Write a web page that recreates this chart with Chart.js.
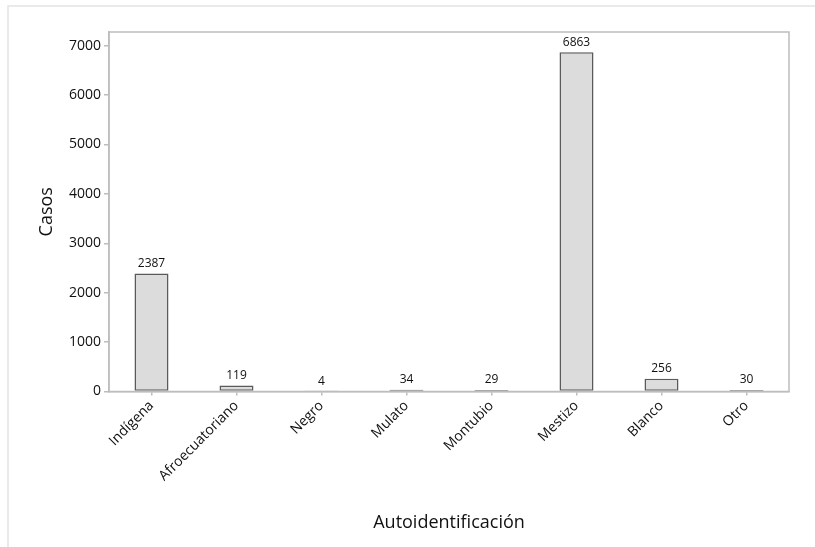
<!DOCTYPE html>
<html>
<head>
<meta charset="utf-8">
<script src="https://cdn.jsdelivr.net/npm/chart.js@4"></script>
<style>
  html, body { margin: 0; padding: 0; background: #fff; }
  #wrap { width: 815px; height: 547px; position: relative; }
</style>
</head>
<body>
<div id="wrap"><canvas id="myChart" width="815" height="547"></canvas></div>
<script>
const categorias = ["Indígena", "Afroecuatoriano", "Negro", "Mulato", "Montubio", "Mestizo", "Blanco", "Otro"];
const casos = [2387, 119, 4, 34, 29, 6863, 256, 30];
const ticksY = [0, 1000, 2000, 3000, 4000, 5000, 6000, 7000];

const colorMarco = "#bdbdbd";

// marco exterior y recuadro del area de trazado
const marcos = {
    id: "marcos",
    beforeDraw(chart) {
        const ctx = chart.ctx;
        ctx.save();
        ctx.strokeStyle = "#e4e4e4";
        ctx.lineWidth = 1.5;
        ctx.beginPath();
        ctx.moveTo(8, 547);
        ctx.lineTo(8, 6);
        ctx.lineTo(815, 6);
        ctx.stroke();
        ctx.restore();
    },
    afterDraw(chart) {
        const a = chart.chartArea;
        const ctx = chart.ctx;
        ctx.save();
        ctx.strokeStyle = colorMarco;
        ctx.lineWidth = 1.5;
        ctx.strokeRect(a.left, a.top, a.right - a.left, a.bottom - a.top);
        ctx.restore();
    }
};

// etiquetas de valor sobre cada barra
const etiquetas = {
    id: "etiquetas",
    afterDatasetsDraw(chart) {
        const ctx = chart.ctx;
        const meta = chart.getDatasetMeta(0);
        ctx.save();
        ctx.fillStyle = "#111";
        ctx.font = "12px 'Open Sans'";
        ctx.textAlign = "center";
        ctx.textBaseline = "bottom";
        meta.data.forEach((bar, i) => {
            ctx.fillText(String(casos[i]), bar.x, bar.y - 4);
        });
        ctx.restore();
    }
};

new Chart(document.getElementById("myChart"), {
    type: "bar",
    data: {
        labels: categorias,
        datasets: [{
            data: casos,
            backgroundColor: "#dcdcdc",
            borderColor: "#5a5a5a",
            borderWidth: 1.5,
            borderSkipped: false,
            categoryPercentage: 1,
            barPercentage: 0.4
        }]
    },
    options: {
        responsive: false,
        animation: false,
        layout: { padding: { top: 32, right: 26, left: 0, bottom: 0 } },
        plugins: {
            legend: { display: false },
            tooltip: { enabled: false }
        },
        scales: {
            x: {
                offset: true,
                grid: { offset: false, drawOnChartArea: false, drawTicks: true, tickLength: 4, color: colorMarco, lineWidth: 1.5 },
                border: { color: colorMarco, width: 1.5 },
                ticks: {
                    minRotation: 45, maxRotation: 45,
                    color: "#111",
                    font: { family: "'Open Sans'", size: 14 },
                    padding: 2
                },
                title: {
                    display: true,
                    text: "Autoidentificación",
                    color: "#111",
                    font: { family: "'Open Sans'", size: 18 },
                    padding: { top: 0, bottom: 13 }
                },
                afterFit(scale) { scale.height = 155.5; }
            },
            y: {
                min: 0,
                max: 7275,
                afterBuildTicks(scale) { scale.ticks = ticksY.map(v => ({ value: v })); },
                grid: { drawOnChartArea: false, drawTicks: true, tickLength: 5, color: colorMarco, lineWidth: 1.5 },
                border: { color: colorMarco, width: 1.5 },
                ticks: {
                    color: "#111",
                    font: { family: "'Open Sans'", size: 14 },
                    padding: 3,
                    callback: v => String(v)
                },
                title: {
                    display: true,
                    text: "Casos",
                    color: "#111",
                    font: { family: "'Open Sans'", size: 18 },
                    padding: { top: 36, bottom: 0 }
                },
                afterFit(scale) { scale.width = 109; }
            }
        }
    },
    plugins: [marcos, etiquetas]
});
</script>
</body>
</html>
